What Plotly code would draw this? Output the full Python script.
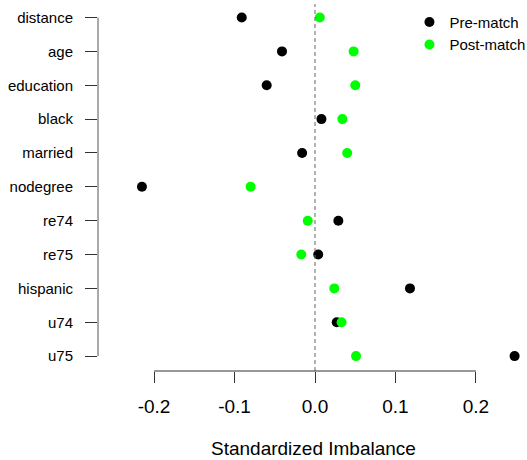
import plotly.graph_objects as go

# Covariates listed top to bottom
covariates = ["distance", "age", "education", "black", "married", "nodegree",
              "re74", "re75", "hispanic", "u74", "u75"]

# Standardized mean differences before and after matching
pre_match = [-0.091, -0.041, -0.060, 0.008, -0.016, -0.215,
             0.029, 0.004, 0.118, 0.027, 0.248]
post_match = [0.006, 0.048, 0.050, 0.034, 0.040, -0.080,
              -0.009, -0.017, 0.024, 0.033, 0.051]

x_ticks = [-0.2, -0.1, 0.0, 0.1, 0.2]
x_tick_labels = ["-0.2", "-0.1", "0.0", "0.1", "0.2"]

FONT = "Liberation Sans, Arial, sans-serif"

fig = go.Figure()
fig.add_trace(go.Scatter(
    x=pre_match, y=covariates, mode="markers", name="Pre-match",
    marker=dict(color="black", size=10, line=dict(width=0)),
))
fig.add_trace(go.Scatter(
    x=post_match, y=covariates, mode="markers", name="Post-match",
    marker=dict(color="#00FF00", size=10, line=dict(width=0)),
))

# reference line at zero imbalance
fig.add_shape(type="line", xref="x", yref="paper", x0=0, x1=0, y0=0, y1=1,
              line=dict(color="#666666", width=1, dash="4px,3px"))
# R-style axis lines spanning only the tick range
fig.add_shape(type="line", xref="x", yref="paper", x0=x_ticks[0], x1=x_ticks[-1],
              y0=0, y1=0, line=dict(color="#333333", width=1))
fig.add_shape(type="line", xref="paper", yref="y", x0=0, x1=0,
              y0=0, y1=len(covariates) - 1, line=dict(color="#555555", width=1))

fig.add_annotation(text="Standardized Imbalance", xref="paper", yref="paper",
                   x=0.5023, y=-0.211, xanchor="center", yanchor="middle",
                   showarrow=False, font=dict(size=19, color="black", family=FONT))

fig.update_layout(
    width=527, height=460,
    margin=dict(l=98, r=0, t=4, b=89, autoexpand=False),
    paper_bgcolor="white", plot_bgcolor="white",
    font=dict(family=FONT, color="black"),
    showlegend=True,
    legend=dict(x=0.726, y=0.995, xanchor="left", yanchor="top",
                font=dict(size=15, family=FONT), bgcolor="rgba(0,0,0,0)",
                borderwidth=0, tracegroupgap=0),
    xaxis=dict(range=[-0.2696, 0.2634], tickvals=x_ticks, ticktext=x_tick_labels,
               showgrid=False, zeroline=False, showline=False,
               ticks="outside", ticklen=11, tickcolor="#333333", tickwidth=1,
               tickfont=dict(size=19, family=FONT, color="black"),
               ticklabelstandoff=7),
    yaxis=dict(type="category", categoryorder="array", categoryarray=covariates,
               range=[10.44, -0.4], showgrid=False, zeroline=False, showline=False,
               ticks="outside", ticklen=12, tickcolor="#333333", tickwidth=1,
               tickfont=dict(size=15, family=FONT, color="black"),
               ticklabelstandoff=9),
)

fig.write_html("out.html")
